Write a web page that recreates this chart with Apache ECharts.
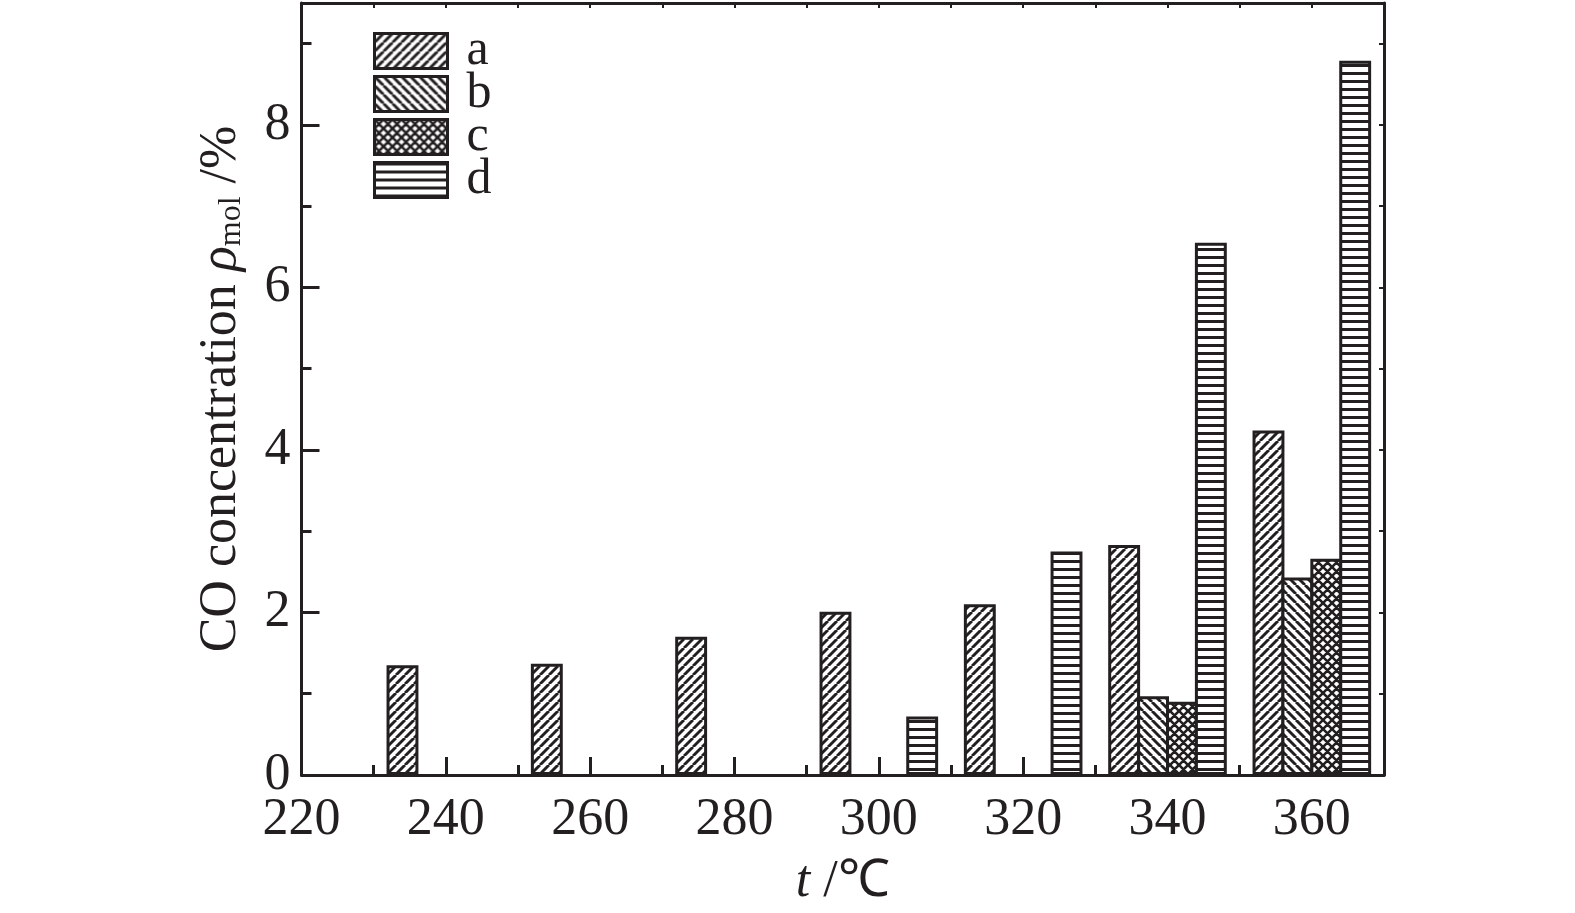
<!DOCTYPE html>
<html>
<head>
<meta charset="utf-8">
<script src="https://cdn.jsdelivr.net/npm/echarts@6/dist/echarts.min.js"></script>
<style>
  html, body { margin: 0; padding: 0; background: #fff; }
  #chart { width: 1575px; height: 913px; }
</style>
</head>
<body>
<div id="chart"></div>
<script>
// temperatures (°C) for each series
var tempA = [240, 260, 280, 300, 320, 340, 360];
var tempB = [340, 360];
var tempC = [340, 360];
var tempD = [300, 320, 340, 360];

// CO concentration, %
var valA = [1.35, 1.37, 1.70, 2.01, 2.10, 2.83, 4.24];
var valB = [0.97, 2.43];
var valC = [0.90, 2.66];
var valD = [0.72, 2.75, 6.55, 8.79];

var names = ['a', 'b', 'c', 'd'];

var ink = '#231f20';
var font = 'Liberation Serif';

// hatch fills
function makePattern(kind) {
    var p = kind == 'h' ? 8 : 9;
    var cv = document.createElement('canvas');
    cv.width = p; cv.height = p;
    var ctx = cv.getContext('2d');
    ctx.fillStyle = '#fff';
    ctx.fillRect(0, 0, p, p);
    ctx.strokeStyle = ink;
    ctx.fillStyle = ink;
    if (kind == 'h') {
        ctx.fillRect(0, 0, p, 3);
        return cv;
    }
    ctx.lineWidth = kind == 'x' ? 2.6 : 2.9;
    ctx.beginPath();
    for (var k = -1; k <= 1; k++) {
        if (kind == 'f' || kind == 'x') {
            ctx.moveTo(k * p, p);
            ctx.lineTo(k * p + p, 0);
        }
        if (kind == 'b' || kind == 'x') {
            ctx.moveTo(k * p, 0);
            ctx.lineTo(k * p + p, p);
        }
    }
    ctx.stroke();
    return cv;
}

function pairs(xs, ys) {
    return xs.map(function (x, i) { return [x, ys[i]]; });
}

var fills = ['f', 'b', 'x', 'h'];
var seriesData = [pairs(tempA, valA), pairs(tempB, valB), pairs(tempC, valC), pairs(tempD, valD)];

// borders are drawn inside the bar, so widen a bit and let neighbours share an edge
var series = names.map(function (n, i) {
    return {
        name: n,
        type: 'bar',
        xAxisIndex: 0,
        yAxisIndex: 0,
        barWidth: '22.1%',
        barGap: '-9.4%',
        data: seriesData[i],
        itemStyle: {
            color: { image: makePattern(fills[i]), repeat: 'repeat' },
            borderColor: ink,
            borderWidth: 3
        },
        emphasis: { disabled: true }
    };
});

var chart = echarts.init(document.getElementById('chart'), null, { renderer: 'canvas' });

var lineStyle = { color: ink, width: 3 };

chart.setOption({
    animation: false,
    backgroundColor: '#fff',
    grid: { left: 301.5, right: 191, top: 3, bottom: 136.5 },
    legend: {
        data: names,
        orient: 'vertical',
        left: 368,
        top: 21,
        itemWidth: 73,
        itemHeight: 35,
        itemGap: -7,
        icon: 'rect',
        itemStyle: { borderColor: ink, borderWidth: 3 },
        textStyle: { fontFamily: font, fontSize: 50, color: ink, padding: [0, 0, 0, 14] },
        selectedMode: false
    },
    xAxis: [
        {
            type: 'value', position: 'bottom', min: 220, max: 370, interval: 20,
            axisLine: { show: true, onZero: false, lineStyle: lineStyle },
            axisTick: { show: true, inside: true, length: 18, lineStyle: { color: ink, width: 3 } },
            axisLabel: { fontFamily: font, fontSize: 52, color: ink, margin: 19, showMaxLabel: false },
            splitLine: { show: false },
            name: '{i|t} /℃',
            nameLocation: 'middle',
            nameGap: 81,
            nameTextStyle: {
                fontFamily: font, fontSize: 52, color: ink,
                rich: { i: { fontFamily: font, fontSize: 52, fontStyle: 'italic', color: ink } }
            }
        },
        {
            type: 'value', position: 'bottom', min: 220, max: 370, interval: 10,
            axisLine: { show: false, onZero: false },
            axisTick: { show: true, inside: true, length: 10, lineStyle: { color: ink, width: 3 } },
            axisLabel: { show: false },
            splitLine: { show: false }
        },
        {
            type: 'value', position: 'top', min: 220, max: 370, interval: 10,
            axisLine: { show: true, onZero: false, lineStyle: lineStyle },
            axisTick: { show: true, inside: true, length: 5, lineStyle: { color: ink, width: 2 } },
            axisLabel: { show: false },
            splitLine: { show: false }
        }
    ],
    yAxis: [
        {
            type: 'value', position: 'left', min: 0, max: 9.5, interval: 2,
            axisLine: { show: true, onZero: false, lineStyle: lineStyle },
            axisTick: { show: true, inside: true, length: 18, lineStyle: { color: ink, width: 3 } },
            axisLabel: { fontFamily: font, fontSize: 52, color: ink, margin: 11, showMaxLabel: false },
            splitLine: { show: false },
            name: 'CO concentration {i|ρ}{sub|mol} /%',
            nameLocation: 'middle',
            nameGap: 54,
            nameTextStyle: {
                fontFamily: font, fontSize: 52, color: ink,
                rich: {
                    i: { fontFamily: font, fontSize: 52, fontStyle: 'italic', color: ink },
                    sub: { fontFamily: font, fontSize: 32, color: ink, verticalAlign: 'bottom', padding: [20, 0, 0, 0] }
                }
            }
        },
        {
            type: 'value', position: 'left', min: 0, max: 9.5, interval: 1,
            axisLine: { show: false, onZero: false },
            axisTick: { show: true, inside: true, length: 10, lineStyle: { color: ink, width: 3 } },
            axisLabel: { show: false },
            splitLine: { show: false }
        },
        {
            type: 'value', position: 'right', min: 0, max: 9.5, interval: 1,
            axisLine: { show: true, onZero: false, lineStyle: lineStyle },
            axisTick: { show: true, inside: true, length: 5, lineStyle: { color: ink, width: 2 } },
            axisLabel: { show: false },
            splitLine: { show: false }
        }
    ],
    series: series
});
</script>
</body>
</html>
